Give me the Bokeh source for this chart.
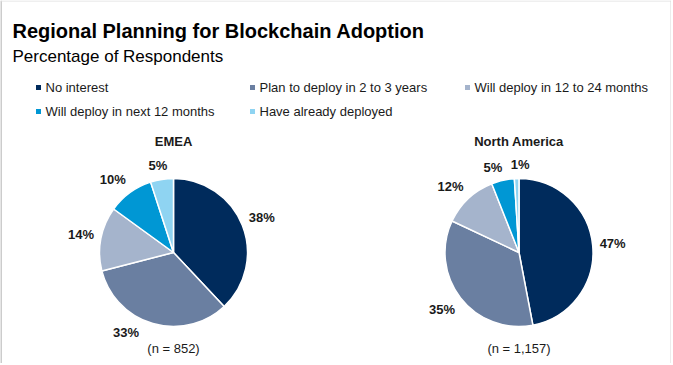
import math
from bokeh.plotting import figure
from bokeh.models import Range1d, ColumnDataSource
from bokeh.core.properties import value
from bokeh.embed import file_html
from bokeh.resources import INLINE

# ---- data ----
title = "Regional Planning for Blockchain Adoption"
subtitle = "Percentage of Respondents"
categories = ["No interest", "Plan to deploy in 2 to 3 years", "Will deploy in 12 to 24 months",
              "Will deploy in next 12 months", "Have already deployed"]
colors = ["#002b5c", "#6a7fa1", "#a5b4cc", "#0097d4", "#8fd4f2"]
regions = ["EMEA", "North America"]
emea_values = [38, 33, 14, 10, 5]
na_values = [47, 35, 12, 5, 1]
sample_sizes = ["(n = 852)", "(n = 1,157)"]

W, H = 671, 363
FONT = "Liberation Sans"
TXT = "#1a1a1a"

p = figure(width=W, height=H, output_backend="svg", toolbar_location=None,
           x_range=Range1d(0, W), y_range=Range1d(0, H), min_border=0)
p.axis.visible = False
p.grid.visible = False
p.outline_line_color = None
p.background_fill_color = "white"

def fy(ref_y):
    return H - ref_y

def fx(ref_x):
    return ref_x

# light frame (left, top, right)
p.segment(x0=[0.5, 0, 670.5], y0=[0, H - 0.5, 0], x1=[0.5, 671, 670.5], y1=[H, H - 0.5, H],
          line_color=["#9a9a9a", "#e0e0e0", "#d8d8d8"], line_width=1)

# title & subtitle
p.text(x=[fx(12)], y=[fy(30)], text=[title], text_font=value(FONT), text_font_size="20px",
       text_font_style="bold", text_color="black", text_baseline="alphabetic")
p.text(x=[fx(12)], y=[fy(56)], text=[subtitle], text_font=value(FONT), text_font_size="17px",
       text_color="black", text_baseline="alphabetic")

# legend (3 columns, 2 rows)
col_x = [fx(38), fx(252), fx(467)]
row_y = [fy(87), fy(111)]
lx, ly = [], []
for i, _ in enumerate(categories):
    lx.append(col_x[i % 3])
    ly.append(row_y[i // 3])
p.scatter(x=lx, y=ly, marker="square", size=5, color=colors, line_color=None)
p.text(x=[v + 7 for v in lx], y=ly, text=categories, text_font=value(FONT), text_font_size="13px",
       text_color=TXT, text_baseline="middle")


def clip(v):
    return max(-1.0, min(1.0, v))


def label_center(cx, cy, r, th, w, h, gap=7):
    return (cx + (r + gap) * math.cos(th) + w / 2 * clip(2 * math.cos(th)),
            cy + (r + gap) * math.sin(th) + h / 2 * clip(2 * math.sin(th)))


def overlap(a, b, pad):
    return (abs(a[0] - b[0]) < (a[2] + b[2]) / 2 + pad and
            abs(a[1] - b[1]) < (a[3] + b[3]) / 2 + pad)


# pies
centers = [(fx(173), fy(252)), (fx(518.5), fy(252))]
nlab_w = [56, 68]
R = 74
for k, ((cx, cy), vals, name, nlab) in enumerate(zip(centers, [emea_values, na_values], regions, sample_sizes)):
    total = sum(vals)
    starts, ends, thetas, labs, widths = [], [], [], [], []
    cum = 0
    for v in vals:
        a0 = math.pi / 2 - 2 * math.pi * cum / total
        cum += v
        a1 = math.pi / 2 - 2 * math.pi * cum / total
        starts.append(a1)
        ends.append(a0)
        thetas.append((a0 + a1) / 2)
        labs.append(f"{v}%")
        widths.append(0.0 + 13 * (0.556 * (len(str(v))) + 0.889))
    LH = 14
    obstacles = [(cx, fy(348), nlab_w[k], 14), (cx, fy(140.5), 90, 14)]
    # relax label angles so labels do not collide with each other or the captions
    for _ in range(400):
        boxes = []
        for th, w in zip(thetas, widths):
            c = label_center(cx, cy, R, th, w, LH)
            boxes.append((c[0], c[1], w, LH))
        moved = False
        for i in range(len(thetas)):
            ti = (-math.sin(thetas[i]), math.cos(thetas[i]))
            others = [(boxes[j], 8) for j in range(len(boxes)) if j != i] + [(o, 6) for o in obstacles]
            for b, pad in others:
                if overlap(boxes[i], b, pad):
                    d = (boxes[i][0] - b[0], boxes[i][1] - b[1])
                    s = 1 if d[0] * ti[0] + d[1] * ti[1] > 0 else -1
                    thetas[i] += s * 0.004
                    moved = True
        if not moved:
            break
    lxs, lys = [], []
    for th, w in zip(thetas, widths):
        c = label_center(cx, cy, R, th, w, LH)
        lxs.append(c[0])
        lys.append(c[1])
    src = ColumnDataSource(dict(start=starts, end=ends, color=colors))
    p.wedge(x=cx, y=cy, radius=R, start_angle="start", end_angle="end", fill_color="color",
            line_color="white", line_width=1.5, source=src)
    p.text(x=lxs, y=lys, text=labs, text_font=value(FONT), text_font_size="13px",
           text_font_style="bold", text_color=TXT, text_align="center", text_baseline="middle")
    p.text(x=[cx], y=[fy(140.5)], text=[name], text_font=value(FONT), text_font_size="13px",
           text_font_style="bold", text_color=TXT, text_align="center", text_baseline="middle")
    p.text(x=[cx], y=[fy(348)], text=[nlab], text_font=value(FONT), text_font_size="13px",
           text_color=TXT, text_align="center", text_baseline="middle")

open("out.html", "w").write(file_html(p, INLINE))
